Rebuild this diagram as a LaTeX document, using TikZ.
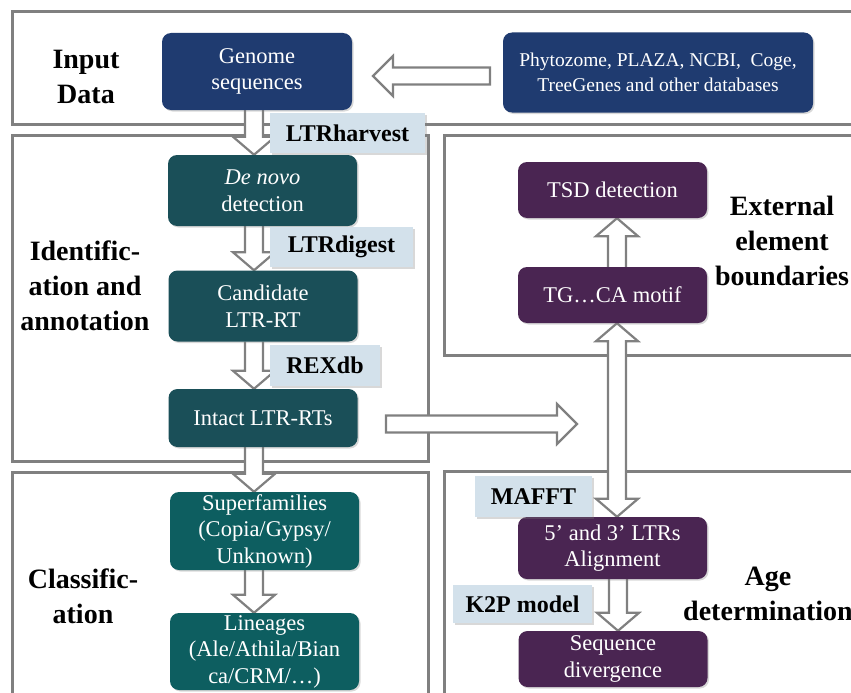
\documentclass[tikz,border=0pt]{standalone}
\usepackage{fontspec}
\setmainfont{Liberation Serif}
\usetikzlibrary{calc,shadows}

\pgfdeclarelayer{cornici}
\pgfdeclarelayer{frecce}
\pgfsetlayers{cornici,frecce,main}

\definecolor{blugen}{HTML}{1F3B70}
\definecolor{tealid}{HTML}{1A4F58}
\definecolor{tealcl}{HTML}{0D5E60}
\definecolor{viola}{HTML}{4A2552}
\definecolor{etich}{HTML}{D3E1EB}
\definecolor{cornice}{HTML}{808080}

\tikzset{
  blocco/.style={rounded corners=9pt, text=white, align=center, inner sep=1pt,
    minimum width=189pt, font=\fontsize{22.5}{26.5}\selectfont,
    drop shadow={shadow xshift=1.5pt, shadow yshift=-1.5pt, opacity=0.3}},
  bin/.style={blocco, fill=blugen},
  bid/.style={blocco, fill=tealid},
  bcl/.style={blocco, fill=tealcl},
  bvi/.style={blocco, fill=viola},
  etichetta/.style={fill=etich, inner sep=0pt, align=center,
    font=\bfseries\fontsize{24}{28}\selectfont,
    drop shadow={shadow xshift=2pt, shadow yshift=-2pt, opacity=0.3}},
  sezione/.style={align=center, font=\bfseries\fontsize{28}{35}\selectfont},
  cornice/.style={draw=cornice, line width=3pt},
  freccia/.style={draw=cornice, fill=white, line width=2.2pt, line join=miter}
}

% freccia verticale: x, da, a
\newcommand{\frecciav}[3]{%
  \filldraw[freccia] let \p1=(#2), \p2=(#3), \n1={sign(\y2-\y1)*18} in
    ({#1pt-9pt},\y1) -- ({#1pt-9pt},{\y2-(\n1)*1pt}) -- ({#1pt-21pt},{\y2-(\n1)*1pt})
    -- (#1pt,\y2) -- ({#1pt+21pt},{\y2-(\n1)*1pt}) -- ({#1pt+9pt},{\y2-(\n1)*1pt})
    -- ({#1pt+9pt},\y1);}
% freccia doppia verticale
\newcommand{\frecciavv}[3]{%
  \filldraw[freccia] let \p1=(#2), \p2=(#3) in
    (#1pt,\y1) -- ({#1pt+21pt},{\y1-18pt}) -- ({#1pt+9pt},{\y1-18pt})
    -- ({#1pt+9pt},{\y2+18pt}) -- ({#1pt+21pt},{\y2+18pt}) -- (#1pt,\y2)
    -- ({#1pt-21pt},{\y2+18pt}) -- ({#1pt-9pt},{\y2+18pt}) -- ({#1pt-9pt},{\y1-18pt})
    -- ({#1pt-21pt},{\y1-18pt}) -- cycle;}
% freccia orizzontale: da, a
\newcommand{\frecciah}[2]{%
  \filldraw[freccia] let \p1=(#1), \p2=(#2), \n1={sign(\x2-\x1)*20} in
    (\x1,{\y1+8.5pt}) -- ({\x2-(\n1)*1pt},{\y1+8.5pt}) -- ({\x2-(\n1)*1pt},{\y1+20pt})
    -- (\x2,\y1) -- ({\x2-(\n1)*1pt},{\y1-20pt}) -- ({\x2-(\n1)*1pt},{\y1-8.5pt})
    -- (\x1,{\y1-8.5pt}) -- cycle;}

\begin{document}
\begin{tikzpicture}[x=1pt, y=-1pt]
  \useasboundingbox (0,0) rectangle (851,693);

  % cornici delle sezioni
  \begin{pgfonlayer}{cornici}
    \fill[white] (0,0) rectangle (851,693);
    \draw[cornice] (12,12) rectangle (880,124);
    \draw[cornice] (12,135) rectangle (428,461);
    \draw[cornice] (444,135) rectangle (880,355);
    \draw[cornice] (12,472) rectangle (428,720);
    \draw[cornice] (444,471) rectangle (880,720);
  \end{pgfonlayer}

  % titoli delle sezioni
  \node[sezione] (tin) at (86,77) {Input\\Data};
  \node[sezione] (tid) at (85,286) {Identific-\\ation and\\annotation};
  \node[sezione] (text) at (782,241) {External\\element\\boundaries};
  \node[sezione] (tcl) at (83,596) {Classific-\\ation};
  \node[sezione] (tage) at (768,594) {Age\\determination};

  % dati in ingresso
  \node[bin, minimum width=190pt, minimum height=77pt] (gen) at (257,71.5) {Genome\\sequences};
  \node[bin, minimum width=310pt, minimum height=80pt, font=\fontsize{19.5}{25}\selectfont]
    (db) at (658,72.5) {Phytozome, PLAZA, NCBI,\ \ Coge,\\TreeGenes and other databases};

  % identificazione e annotazione
  \node[bid, minimum height=71pt] (denovo) at (262.5,190.5) {\textit{De novo}\\detection};
  \node[bid, minimum height=71pt] (cand) at (263,306) {Candidate\\LTR-RT};
  \node[bid, minimum height=58pt] (intact) at (263,418) {Intact LTR-RTs};

  % classificazione
  \node[bcl, minimum height=78pt] (sup) at (264.5,531) {Superfamilies\\(Copia/Gypsy/\\Unknown)};
  \node[bcl, minimum height=77pt] (lin) at (264.5,651.5) {Lineages\\(Ale/Athila/Bian\\ca/CRM/…)};

  % confini esterni ed eta'
  \node[bvi, minimum height=56pt] (tsd) at (612.5,190) {TSD detection};
  \node[bvi, minimum height=56pt] (tgca) at (612.5,295) {TG…CA motif};
  \node[bvi, minimum height=62pt] (align) at (612.5,548) {5’ and 3’ LTRs\\Alignment};
  \node[bvi, minimum height=56pt] (seqdiv) at (613,659) {Sequence\\divergence};

  % strumenti
  \node[etichetta, minimum width=155pt, minimum height=40pt] (harvest) at (347.5,133) {LTRharvest};
  \node[etichetta, minimum width=143pt, minimum height=40pt] (digest) at (341.5,247) {LTRdigest};
  \node[etichetta, minimum width=110pt, minimum height=41pt] (rexdb) at (325,365.5) {REXdb};
  \node[etichetta, minimum width=117pt, minimum height=41pt] (mafft) at (533.5,496.5) {MAFFT};
  \node[etichetta, minimum width=139pt, minimum height=38pt] (k2p) at (522.5,604) {K2P model};

  % estremi liberi delle frecce orizzontali
  \coordinate (dbcoda) at (490,76);
  \coordinate (genpunta) at (373,76);
  \coordinate (intcoda) at (386,424);
  \coordinate (intpunta) at (577,424);

  % frecce
  \begin{pgfonlayer}{frecce}
    \frecciah{dbcoda}{genpunta}
    \frecciav{254}{gen.south}{denovo.north}
    \frecciav{254}{denovo.south}{cand.north}
    \frecciav{254}{cand.south}{intact.north}
    \frecciav{254}{intact.south}{sup.north}
    \frecciav{254}{sup.south}{lin.north}
    \frecciah{intcoda}{intpunta}
    \frecciav{617}{tgca.north}{tsd.south}
    \frecciavv{617}{tgca.south}{align.north}
    \frecciav{618}{align.south}{seqdiv.north}
  \end{pgfonlayer}
\end{tikzpicture}
\end{document}
